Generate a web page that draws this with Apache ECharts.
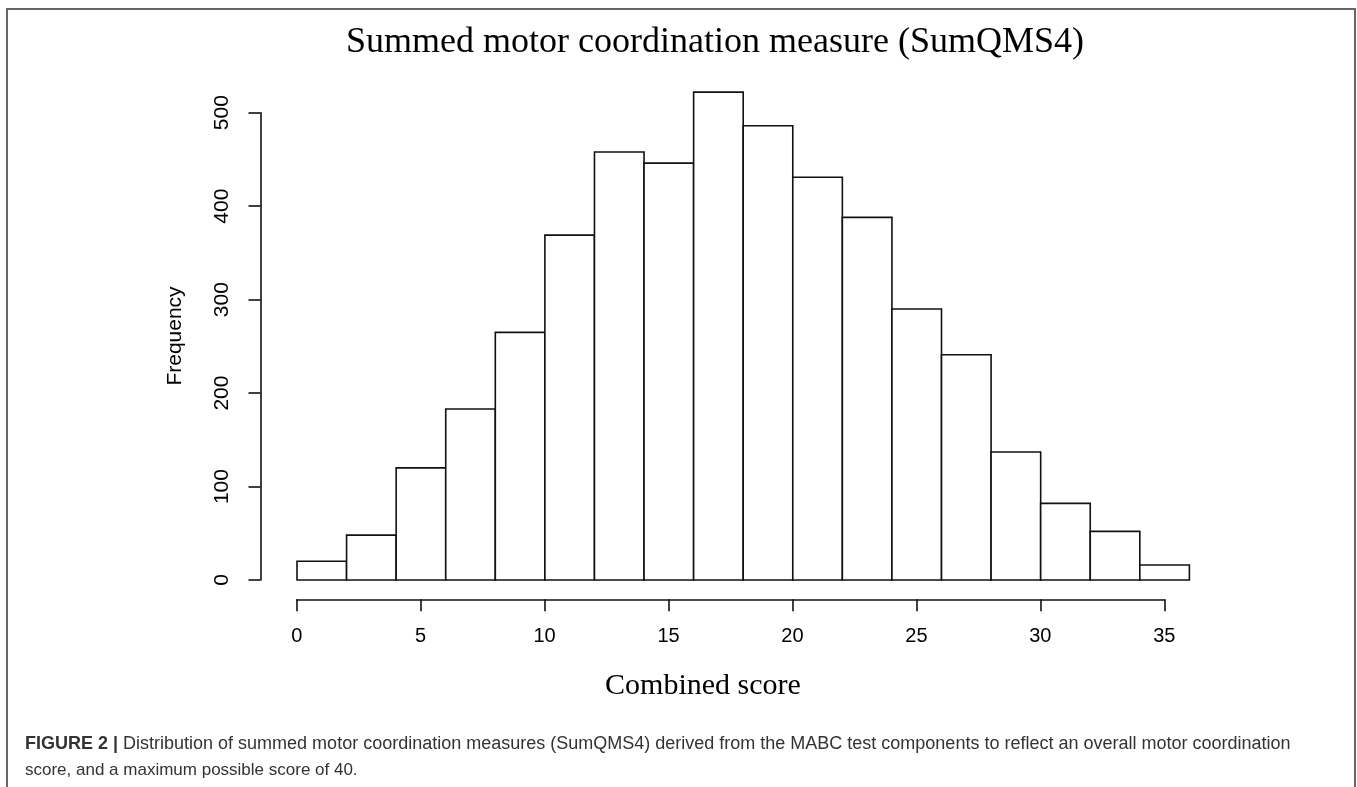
<!DOCTYPE html>
<html>
<head>
<meta charset="utf-8">
<script src="https://cdn.jsdelivr.net/npm/echarts@6/dist/echarts.min.js"></script>
<style>
html,body{margin:0;padding:0;background:#fff;}
#chart{width:1357px;height:787px;}
</style>
</head>
<body>
<div id="chart"></div>
<script>
// ---- data ----
var binStarts = [0, 2, 4, 6, 8, 10, 12, 14, 16, 18, 20, 22, 24, 26, 28, 30, 32, 34];
var binEnds   = [2, 4, 6, 8, 10, 12, 14, 16, 18, 20, 22, 24, 26, 28, 30, 32, 34, 36];
var counts    = [20, 48, 120, 183, 265, 369, 458, 446, 522, 486, 431, 388, 290, 241, 137, 82, 52, 16];
var xTicks = [0, 5, 10, 15, 20, 25, 30, 35];
var yTicks = [0, 100, 200, 300, 400, 500];
var titleText = 'Summed motor coordination measure (SumQMS4)';
var xTitle = 'Combined score';
var yTitle = 'Frequency';
var captionBold = 'FIGURE 2 |';
var captionLine1 = ' Distribution of summed motor coordination measures (SumQMS4) derived from the MABC test components to reflect an overall motor coordination';
var captionLine2 = 'score, and a maximum possible score of 40.';

var histData = binStarts.map(function (s, i) { return [s, binEnds[i], counts[i]]; });

var chart = echarts.init(document.getElementById('chart'), null, {renderer: 'canvas'});
var sans = 'Liberation Sans, Arial, sans-serif';
var serif = 'Liberation Serif, Times New Roman, serif';
var ink = '#111';

chart.setOption({
  animation: false,
  backgroundColor: '#fff',
  grid: [
    {left: 297, top: 112.7, width: 892.4, height: 467.3},
    {left: 296.7, top: 400, width: 867.6, height: 199.3},
    {left: 260.5, top: 112.7, width: 20, height: 467.3}
  ],
  xAxis: [
    {type: 'value', gridIndex: 0, min: 0, max: 36, show: false},
    {type: 'value', gridIndex: 1, min: xTicks[0], max: xTicks[xTicks.length - 1], interval: 5,
     axisLine: {show: true, lineStyle: {color: ink, width: 1.6}},
     axisTick: {show: true, length: 12, inside: false, lineStyle: {color: ink, width: 1.6}},
     axisLabel: {show: true, margin: 27, fontSize: 20, color: '#000', fontFamily: sans,
                 formatter: function (v) { return xTicks.indexOf(v) >= 0 ? String(v) : ''; }},
     splitLine: {show: false}},
    {type: 'value', gridIndex: 2, show: false}
  ],
  yAxis: [
    {type: 'value', gridIndex: 0, min: yTicks[0], max: yTicks[yTicks.length - 1], show: false},
    {type: 'value', gridIndex: 1, show: false},
    {type: 'value', gridIndex: 2, min: yTicks[0], max: yTicks[yTicks.length - 1], interval: 100,
     axisLine: {show: true, lineStyle: {color: ink, width: 1.6}},
     axisTick: {show: true, length: 12, inside: false, lineStyle: {color: ink, width: 1.6}},
     axisLabel: {show: true, rotate: 90, margin: 28, fontSize: 21, color: '#000', fontFamily: sans},
     splitLine: {show: false}}
  ],
  series: [{
    type: 'custom',
    xAxisIndex: 0,
    yAxisIndex: 0,
    clip: false,
    data: histData,
    renderItem: function (params, api) {
      var p0 = api.coord([api.value(0), 0]);
      var p1 = api.coord([api.value(1), api.value(2)]);
      return {
        type: 'rect',
        shape: {x: p0[0], y: p1[1], width: p1[0] - p0[0], height: p0[1] - p1[1]},
        style: {fill: '#fff', stroke: ink, lineWidth: 1.6}
      };
    }
  }],
  graphic: [
    {type: 'rect', shape: {x: 7, y: 9, width: 1348, height: 820},
     style: {fill: 'none', stroke: '#666', lineWidth: 2}, silent: true},
    {type: 'text', x: 715, y: 43,
     style: {text: titleText, font: '36px ' + serif, fill: '#000', textAlign: 'center', textVerticalAlign: 'middle'}},
    {type: 'text', x: 703, y: 686,
     style: {text: xTitle, font: '30px ' + serif, fill: '#000', textAlign: 'center', textVerticalAlign: 'middle'}},
    {type: 'text', x: 175, y: 336, rotation: Math.PI / 2,
     style: {text: yTitle, font: '21px ' + sans, fill: '#000', textAlign: 'center', textVerticalAlign: 'middle'}},
    {type: 'text', x: 25, y: 744,
     style: {text: '{b|' + captionBold + '}' + captionLine1, fill: '#333', font: '18px ' + sans,
             textVerticalAlign: 'middle',
             rich: {b: {fontWeight: 'bold', fontSize: 18, fontFamily: sans, fill: '#333'}}}},
    {type: 'text', x: 25, y: 770,
     style: {text: captionLine2, fill: '#333', font: '17px ' + sans, textVerticalAlign: 'middle'}}
  ]
});
</script>
</body>
</html>
